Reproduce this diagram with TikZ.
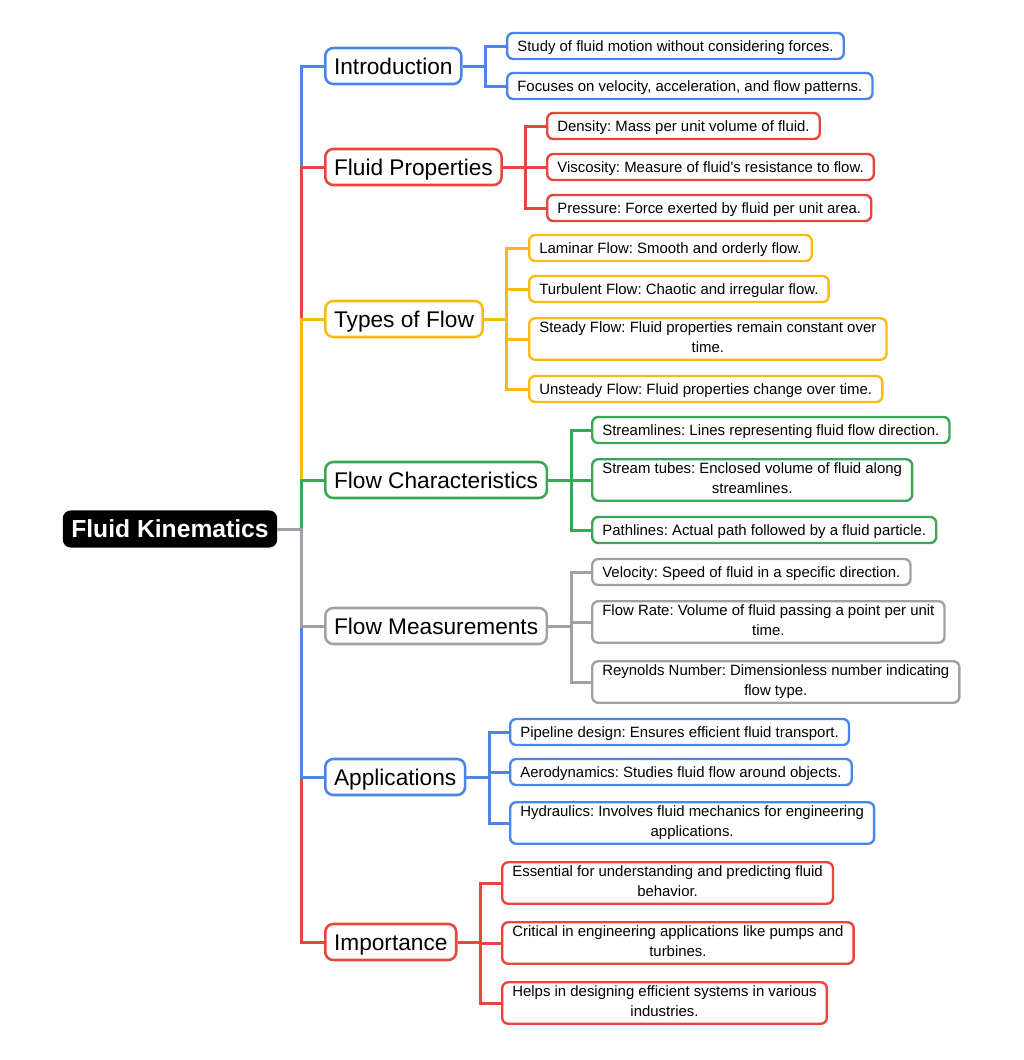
\documentclass[tikz,border=0pt]{standalone}
\usepackage{fontspec}
\setmainfont{Liberation Sans}[Ligatures=TeXOff]
\usetikzlibrary{positioning}
\definecolor{mmblue}{HTML}{4A86E8}
\definecolor{mmred}{HTML}{E8453C}
\definecolor{mmyellow}{HTML}{F9BB12}
\definecolor{mmgreen}{HTML}{3AA757}
\definecolor{mmgray}{HTML}{9EA1A6}
\newcommand\rootstrut{\rule[-3.9pt]{0pt}{21pt}}
\newcommand\topicstrut{\rule[-3.9pt]{0pt}{20pt}}
\newcommand\leafstrut{\rule[-3.5pt]{0pt}{15pt}}
\frenchspacing
\begin{document}
\begin{tikzpicture}[x=0.75pt,y=-0.75pt,
	rootbox/.style={fill=black,text=white,rounded corners=6pt,font=\fontsize{18.5}{21}\selectfont\bfseries,
		inner xsep=6.4pt,inner ysep=3.4pt,execute at begin node=\rootstrut},
	topic/.style={draw=#1,fill=white,line width=1.9pt,rounded corners=6pt,font=\fontsize{17}{20}\selectfont,
		inner xsep=6.6pt,inner ysep=3.5pt,anchor=west,execute at begin node=\topicstrut},
	leaf/.style={draw=#1,fill=white,line width=1.8pt,rounded corners=4.5pt,font=\fontsize{11.2}{15}\selectfont,
		align=center,inner xsep=7.6pt,inner ysep=2.25pt,anchor=west,
		execute at begin node=\leafstrut,execute at end node=\leafstrut},
	link/.style={draw=#1,line width=2.25pt}]
			\useasboundingbox (0,0) rectangle (1024,1060);
			\coordinate (spine) at (301,529);
			\node[rootbox] (root) at (170,529) {Fluid Kinematics};
			% main topics
			\node[topic=mmblue] (intro) at (324,66) {Introduction};
			\node[topic=mmred] (props) at (324,167) {Fluid Properties};
			\node[topic=mmyellow] (types) at (324,319) {Types of Flow};
			\node[topic=mmgreen] (chars) at (324,480) {Flow Characteristics};
			\node[topic=mmgray] (meas) at (324,626) {Flow Measurements};
			\node[topic=mmblue] (apps) at (324,777) {Applications};
			\node[topic=mmred] (imp) at (324,942) {Importance};
			% details
			\node[leaf=mmblue] (intro1) at (506,46) {Study of fluid motion without considering forces.};
			\node[leaf=mmblue] (intro2) at (506,86) {Focuses on velocity, acceleration, and flow patterns.};
			\node[leaf=mmred] (props1) at (546,126) {Density: Mass per unit volume of fluid.};
			\node[leaf=mmred] (props2) at (546,167) {Viscosity: Measure of fluid's resistance to flow.};
			\node[leaf=mmred] (props3) at (546,208) {Pressure: Force exerted by fluid per unit area.};
			\node[leaf=mmyellow] (types1) at (528,248) {Laminar Flow: Smooth and orderly flow.};
			\node[leaf=mmyellow] (types2) at (528,289) {Turbulent Flow: Chaotic and irregular flow.};
			\node[leaf=mmyellow] (types3) at (528,339) {Steady Flow: Fluid properties remain constant over\\time.};
			\node[leaf=mmyellow] (types4) at (528,389) {Unsteady Flow: Fluid properties change over time.};
			\node[leaf=mmgreen] (chars1) at (591,430) {Streamlines: Lines representing fluid flow direction.};
			\node[leaf=mmgreen] (chars2) at (591,480) {Stream tubes: Enclosed volume of fluid along\\streamlines.};
			\node[leaf=mmgreen] (chars3) at (591,530) {Pathlines: Actual path followed by a fluid particle.};
			\node[leaf=mmgray] (meas1) at (591,572) {Velocity: Speed of fluid in a specific direction.};
			\node[leaf=mmgray] (meas2) at (591,622) {Flow Rate: Volume of fluid passing a point per unit\\time.};
			\node[leaf=mmgray] (meas3) at (591,682) {Reynolds Number: Dimensionless number indicating\\flow type.};
			\node[leaf=mmblue] (apps1) at (509,732) {Pipeline design: Ensures efficient fluid transport.};
			\node[leaf=mmblue] (apps2) at (509,772) {Aerodynamics: Studies fluid flow around objects.};
			\node[leaf=mmblue] (apps3) at (509,823) {Hydraulics: Involves fluid mechanics for engineering\\applications.};
			\node[leaf=mmred] (imp1) at (501,883) {Essential for understanding and predicting fluid\\behavior.};
			\node[leaf=mmred] (imp2) at (501,943) {Critical in engineering applications like pumps and\\turbines.};
			\node[leaf=mmred] (imp3) at (501,1003) {Helps in designing efficient systems in various\\industries.};
			% connectors, outer ones first
			\begin{scope}[on background layer/.try]
			\foreach \t/\c in {intro/mmblue,imp/mmred,props/mmred,apps/mmblue,types/mmyellow,chars/mmgreen,meas/mmgray}
				\draw[link=\c] (root.east) -- (spine) |- (\t.west);
			\foreach \l in {intro1,intro2} \draw[link=mmblue] (intro.east) -- ++(23,0) |- (\l.west);
			\foreach \l in {props1,props2,props3} \draw[link=mmred] (props.east) -- ++(23,0) |- (\l.west);
			\foreach \l in {types1,types2,types3,types4} \draw[link=mmyellow] (types.east) -- ++(23,0) |- (\l.west);
			\foreach \l in {chars1,chars2,chars3} \draw[link=mmgreen] (chars.east) -- ++(23,0) |- (\l.west);
			\foreach \l in {meas1,meas2,meas3} \draw[link=mmgray] (meas.east) -- ++(23,0) |- (\l.west);
			\foreach \l in {apps1,apps2,apps3} \draw[link=mmblue] (apps.east) -- ++(23,0) |- (\l.west);
			\foreach \l in {imp1,imp2,imp3} \draw[link=mmred] (imp.east) -- ++(23,0) |- (\l.west);
			\end{scope}
\end{tikzpicture}
\end{document}
